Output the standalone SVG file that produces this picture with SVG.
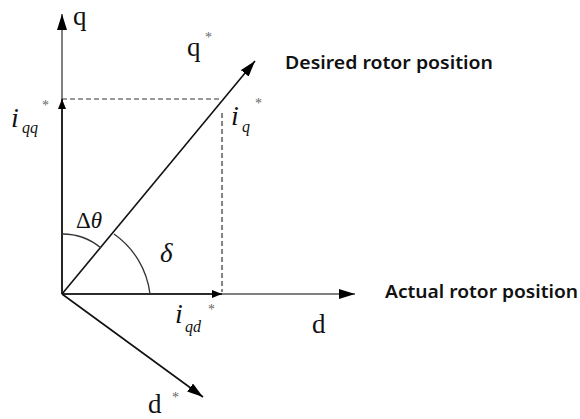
<svg xmlns="http://www.w3.org/2000/svg" width="580" height="419" viewBox="0 0 580 419">
<defs>
<marker id="big" viewBox="0 0 16 10" refX="16" refY="5" markerWidth="16" markerHeight="10" markerUnits="userSpaceOnUse" orient="auto"><path d="M0,0 L16,5 L0,10 Z" fill="#000"/></marker>
<marker id="small" viewBox="0 0 10 8" refX="10" refY="4" markerWidth="10" markerHeight="8" markerUnits="userSpaceOnUse" orient="auto"><path d="M0,0 L10,4 L0,8 Z" fill="#000"/></marker>
</defs>
<style>
.ax{stroke:#555;stroke-width:1.5;fill:none}
.vec{stroke:#111;stroke-width:1.6;fill:none}
.dash{stroke:#333;stroke-width:1.2;stroke-dasharray:5,3;fill:none}
.arc{stroke:#333;stroke-width:1.3;fill:none}
.m{font-family:"Liberation Serif",serif;fill:#111}
.mi{font-family:"Liberation Serif",serif;font-style:italic;fill:#111}
.st{font-family:"Liberation Serif",serif;fill:#666;font-size:14px}
.lbl{font-family:"Noto Sans","Liberation Sans",sans-serif;font-weight:600;font-size:17px;fill:#111}
</style>
<rect width="580" height="419" fill="#fff"/>
<g id="connectors">
<line class="ax" x1="62" y1="294" x2="62" y2="14" marker-end="url(#big)"/>
<line class="ax" x1="62" y1="294" x2="355" y2="294" marker-end="url(#big)"/>
<line class="vec" x1="62" y1="294" x2="62" y2="99" marker-end="url(#small)"/>
<line class="vec" x1="62" y1="294" x2="222" y2="294" marker-end="url(#small)"/>
<line class="vec" x1="62" y1="294" x2="255" y2="61" marker-end="url(#big)"/>
<line class="vec" x1="62" y1="294" x2="203" y2="397" marker-end="url(#big)"/>
<line class="dash" x1="62" y1="99" x2="220" y2="99"/>
<line class="dash" x1="222" y1="113" x2="222" y2="292"/>
<path class="arc" d="M62,234 A60,60 0 0 1 101,248"/>
<path class="arc" d="M114,234 A86,86 0 0 1 150,294"/>
</g>
<g id="axis-q"><text class="m" x="73" y="25" font-size="27">q</text></g>
<g id="axis-qstar"><text class="m" x="187" y="56" font-size="27">q</text><text class="st" x="205" y="42">*</text></g>
<g id="axis-d"><text class="m" x="312" y="333" font-size="27">d</text></g>
<g id="axis-dstar"><text class="m" x="148" y="413" font-size="27">d</text><text class="st" x="172" y="402">*</text></g>
<g id="label-desired"><text class="lbl" x="285" y="69" textLength="208" lengthAdjust="spacingAndGlyphs">Desired rotor position</text></g>
<g id="label-actual"><text class="lbl" x="385" y="298" textLength="193" lengthAdjust="spacingAndGlyphs">Actual rotor position</text></g>
<g id="label-iqq"><text class="mi" x="11" y="127" font-size="28">i</text><text class="mi" x="22" y="133" font-size="16">qq</text><text class="st" x="42" y="110">*</text></g>
<g id="label-iq"><text class="mi" x="231" y="125" font-size="28">i</text><text class="mi" x="242" y="132" font-size="16">q</text><text class="st" x="255" y="108">*</text></g>
<g id="label-iqd"><text class="mi" x="175" y="323" font-size="28">i</text><text class="mi" x="185" y="332" font-size="16">qd</text><text class="st" x="208" y="314">*</text></g>
<g id="label-dtheta"><text class="m" x="76" y="228" font-size="23">Δ<tspan class="mi">θ</tspan></text></g>
<g id="label-delta"><text class="mi" x="160" y="262" font-size="27">δ</text></g>
</svg>
